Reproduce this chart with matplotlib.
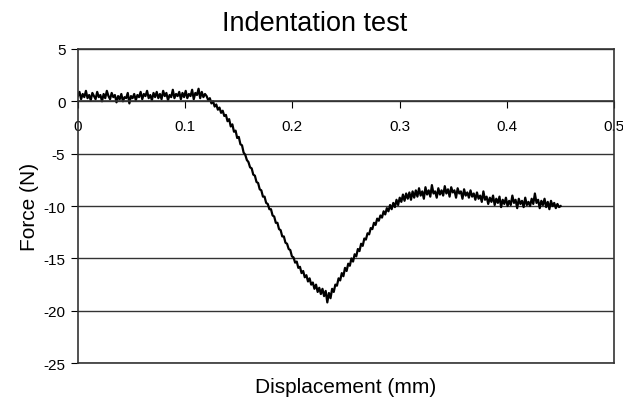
import numpy as np
import matplotlib
matplotlib.use("Agg")
import matplotlib.pyplot as plt

step = 0.0015
force = [
    # flat part before contact
    0.5, 0.9, 0.2, 0.7, 0.4, 1.0, 0.3, 0.6, 0.1, 0.8,
    0.5, 0.2, 0.9, 0.4, 0.6, 0.0, 0.7, 0.3, 1.0, 0.5,
    0.2, 0.8, 0.4, 0.6, -0.1, 0.5, 0.2, 0.7, 0.0, 0.4,
    0.3, 0.8, -0.2, 0.5, 0.3, 0.7, 0.1, 0.6, 0.4, 0.9,
    0.2, 0.7, 0.5, 1.0, 0.3, 0.6, 0.1, 0.8, 0.4, 0.9,
    0.3, 0.7, 0.2, 1.0, 0.5, 0.8, 0.1, 0.6, 0.4, 1.1,
    0.3, 0.7, 0.5, 0.9, 0.2, 0.8, 0.4, 1.0, 0.3, 0.7,
    0.5, 1.1, 0.2, 0.8, 0.6, 1.2, 0.3, 0.9, 0.4, 0.7,
    # loading
    0.5, 0.1, 0.3, -0.2, 0.0, -0.5, -0.3, -0.8, -0.6, -1.1,
    -0.9, -1.4, -1.3, -1.9, -1.7, -2.4, -2.2, -2.9, -2.8, -3.5,
    -3.4, -4.1, -4.2, -4.9,
    -5.1, -5.6, -5.8, -6.3, -6.4, -7.0, -7.1, -7.7, -7.8, -8.4,
    -8.5, -9.1, -9.1, -9.7, -9.8, -10.3, -10.3, -10.9, -11.0, -11.6,
    -11.6, -12.2, -12.3, -12.9, -12.9, -13.5, -13.6, -14.1, -14.2, -14.8,
    -14.9,
    # peak
    -15.4, -15.3, -15.9, -15.8, -16.4, -16.2, -16.8, -16.6, -17.2, -16.9,
    -17.5, -17.3, -17.9, -17.5, -18.2, -17.8, -18.4, -17.9, -18.6, -18.1,
    -19.2, -18.3, -18.8, -17.9, -18.2, -17.5,
    # recovery
    -17.6, -16.9, -17.1, -16.4, -16.7, -15.9, -16.2, -15.5, -15.7, -15.0,
    -15.3, -14.6, -14.8, -14.1, -14.3, -13.6, -13.8, -13.1, -13.2, -12.6,
    -12.7, -12.1, -12.2, -11.6, -11.8, -11.2, -11.4, -10.9, -11.1, -10.5,
    -10.8, -10.2, -10.5, -9.9, -10.3, -9.7, -10.1,
    # second plateau
    -9.4, -9.9, -9.2, -9.6, -8.9, -9.5, -8.8, -9.3, -8.7, -9.4,
    -8.6, -9.2, -8.5, -9.1, -8.3, -9.0, -8.6, -9.3, -8.2, -8.9,
    -8.5, -9.1, -8.0, -8.8, -8.6, -9.2, -8.3, -8.9, -8.5, -9.0,
    -8.1, -8.8, -8.4, -9.1, -8.2, -8.7, -8.5, -9.2, -8.3, -8.8,
    -8.6, -9.3, -8.4, -9.0, -8.7, -9.2, -8.5, -9.1, -8.8, -9.4,
    -8.7, -9.3, -9.0, -9.6, -8.6, -9.4, -9.1, -9.8, -9.2, -9.6,
    -9.0, -9.9, -9.3, -9.7, -9.1, -10.1, -9.4, -9.8, -9.2, -10.0,
    -9.5, -9.9, -9.0, -9.7, -9.4, -10.2, -9.3, -9.8, -9.5, -10.1,
    -9.2, -9.9, -9.6, -10.0, -9.3, -9.8, -8.8, -9.7, -9.4, -10.2,
    -9.5, -9.9, -9.3, -10.1, -9.6, -10.3, -9.5, -10.0, -9.7, -10.2,
    -9.8, -10.1, -10.0,
]
displacement = np.round(np.arange(len(force)) * step, 4)

x_ticks = [0, 0.1, 0.2, 0.3, 0.4, 0.5]
x_labels = ["0", "0.1", "0.2", "0.3", "0.4", "0.5"]
y_ticks = [-25, -20, -15, -10, -5, 0, 5]

plt.rcParams['font.family'] = ['Liberation Sans', 'DejaVu Sans']
plt.rcParams['axes.unicode_minus'] = False

fig = plt.figure(figsize=(6.23, 4.06), dpi=100)
ax = fig.add_axes([0.125, 0.103, 0.861, 0.774])

ax.plot(displacement, force, color='black', lw=1.6)

ax.set_xlim(0, 0.5)
ax.set_ylim(-25, 5)
ax.set_yticks(y_ticks)
ax.set_xticks(x_ticks)
ax.set_xticklabels(x_labels)
ax.grid(axis='y', color='#333333', lw=1.0)
ax.set_axisbelow(True)

# x axis sits on the zero line, frame is closed by a line at -25
ax.spines['bottom'].set_position(('data', 0))
ax.axhline(-25, color='#333333', lw=1.2, clip_on=False)
for s in ['left', 'right', 'top', 'bottom']:
    ax.spines[s].set_color('#333333')
    ax.spines[s].set_linewidth(1.2)

ax.tick_params(axis='y', direction='out', length=5, labelsize=11, pad=4)
ax.tick_params(axis='x', direction='out', length=5, labelsize=11, pad=8)

fig.text(0.505, 0.942, "Indentation test", fontsize=19.5, ha='center', va='center')
ax.set_ylabel("Force (N)", fontsize=15)
ax.yaxis.set_label_coords(-0.072, 0.5)
ax.set_xlabel("Displacement (mm)", fontsize=15)
ax.xaxis.set_label_coords(0.5, -0.045)

fig.savefig("out.png", dpi=100)
